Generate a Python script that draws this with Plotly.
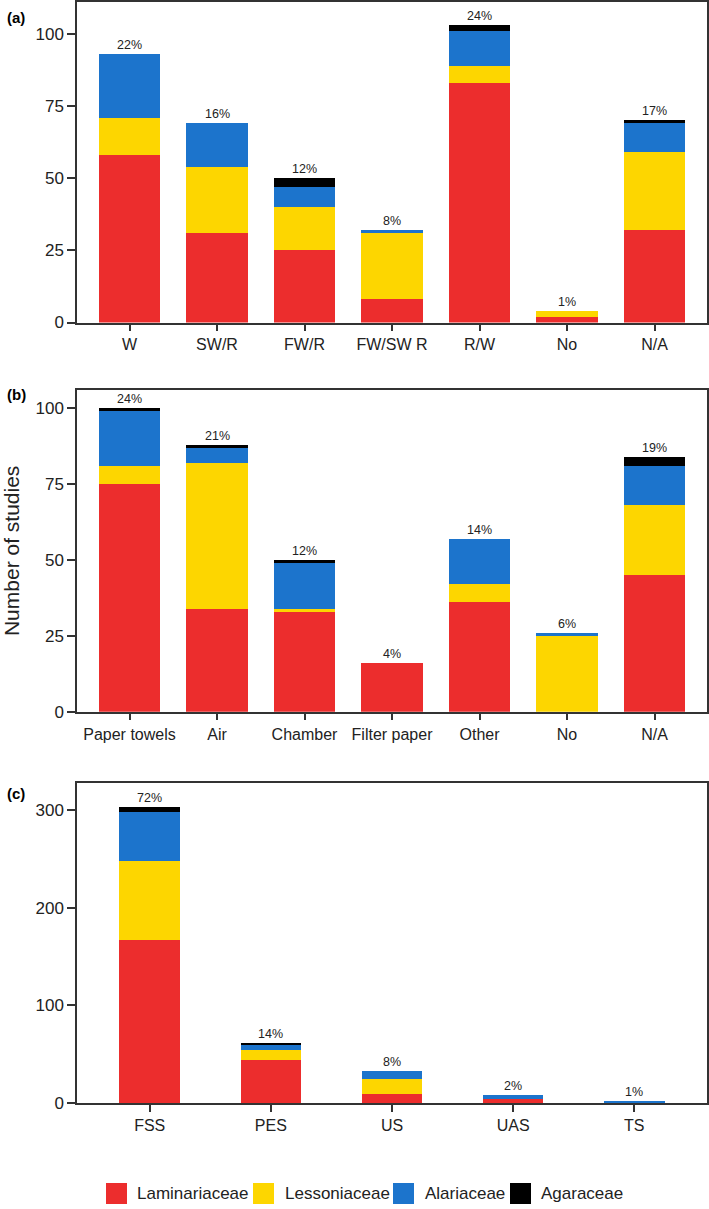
import plotly.graph_objects as go

# ---------------- data ----------------
families = ["Laminariaceae", "Lessoniaceae", "Alariaceae", "Agaraceae"]
colors = ["#EC2D2D", "#FDD600", "#1C74CC", "#000000"]

a_cats = ["W", "SW/R", "FW/R", "FW/SW R", "R/W", "No", "N/A"]
a_lam = [58, 31, 25, 8, 83, 2, 32]
a_les = [13, 23, 15, 23, 6, 2, 27]
a_ala = [22, 15, 7, 1, 12, 0, 10]
a_aga = [0, 0, 3, 0, 2, 0, 1]
a_pct = ["22%", "16%", "12%", "8%", "24%", "1%", "17%"]

b_cats = ["Paper towels", "Air", "Chamber", "Filter paper", "Other", "No", "N/A"]
b_lam = [75, 34, 33, 16, 36, 0, 45]
b_les = [6, 48, 1, 0, 6, 25, 23]
b_ala = [18, 5, 15, 0, 15, 1, 13]
b_aga = [1, 1, 1, 0, 0, 0, 3]
b_pct = ["24%", "21%", "12%", "4%", "14%", "6%", "19%"]

c_cats = ["FSS", "PES", "US", "UAS", "TS"]
c_lam = [167, 44, 9, 4, 0]
c_les = [81, 10, 16, 0, 0]
c_ala = [50, 6, 8, 4, 2]
c_aga = [5, 1, 0, 0, 0]
c_pct = ["72%", "14%", "8%", "2%", "1%"]

a_ticks = [0, 25, 50, 75, 100]
b_ticks = [0, 25, 50, 75, 100]
c_ticks = [0, 100, 200, 300]

# ---------------- figure ----------------
W, H = 709, 1209
FONT = "Liberation Sans, Arial, sans-serif"
TXT = "#222222"
LINE = "#333333"

fig = go.Figure()

panels = [
    ("x", "y", a_cats, [a_lam, a_les, a_ala, a_aga], a_pct, 0.7),
    ("x2", "y2", b_cats, [b_lam, b_les, b_ala, b_aga], b_pct, 0.7),
    ("x3", "y3", c_cats, [c_lam, c_les, c_ala, c_aga], c_pct, 0.5),
]

for xa, ya, cats, series, pcts, bw in panels:
    for name, col, vals in zip(families, colors, series):
        fig.add_trace(go.Bar(
            x=cats, y=vals, name=name, xaxis=xa, yaxis=ya,
            marker=dict(color=col, line=dict(width=0)),
            width=bw, showlegend=False, hoverinfo="x+y+name",
        ))
    totals = [sum(v) for v in zip(*series)]
    for c, t, p in zip(cats, totals, pcts):
        fig.add_annotation(
            x=c, y=t, xref=xa, yref=ya, text=p, showarrow=False,
            yanchor="bottom", yshift=0,
            font=dict(family=FONT, size=12.5, color=TXT),
        )

def py(px):
    return 1 - px / H

def pxx(px):
    return px / W

xdom = [pxx(77), pxx(707)]

axis_common = dict(
    showline=True, mirror=True, linecolor=LINE, linewidth=1.5,
    showgrid=False, zeroline=False, ticks="outside", tickcolor=LINE,
    tickwidth=2, automargin=False,
)

def xaxis(cats, anchor):
    return dict(
        axis_common, type="category", domain=xdom, anchor=anchor,
        range=[-0.6, len(cats) - 0.4], ticklen=7,
        tickfont=dict(family=FONT, size=16, color=TXT),
    )

def yaxis(dom, rng, ticks, anchor, title=None):
    d = dict(
        axis_common, domain=dom, anchor=anchor, range=rng,
        tickvals=ticks, ticklen=8,
        tickfont=dict(family=FONT, size=17, color=TXT),
    )
    if title:
        d["title"] = dict(text=title, standoff=11,
                          font=dict(family=FONT, size=21, color=TXT))
    return d

fig.update_layout(
    width=W, height=H, autosize=False,
    margin=dict(l=0, r=0, t=0, b=0),
    paper_bgcolor="white", plot_bgcolor="white",
    barmode="stack", showlegend=False,
    font=dict(family=FONT, color=TXT),
    xaxis=xaxis(a_cats, "y"),
    xaxis2=xaxis(b_cats, "y2"),
    xaxis3=xaxis(c_cats, "y3"),
    yaxis=yaxis([py(322.5), py(2)], [0, 111], a_ticks, "x"),
    yaxis2=yaxis([py(711.7), py(390)], [0, 106], b_ticks, "x2",
                 title="Number of studies"),
    yaxis3=yaxis([py(1103), py(782.7)], [0, 328], c_ticks, "x3"),
)

# panel labels
for lab, ycen in [("(a)", 17), ("(b)", 395), ("(c)", 793)]:
    fig.add_annotation(
        x=pxx(5), y=py(ycen), xref="paper", yref="paper", text=f"<b>{lab}</b>",
        showarrow=False, xanchor="left", yanchor="middle",
        font=dict(family=FONT, size=15, color="#000"),
    )

# legend (drawn manually to match the square swatches)
leg_sw_x = [106, 253, 393, 510]
leg_txt_x = [135, 283, 423, 539]
for name, col, sx, tx in zip(families, colors, leg_sw_x, leg_txt_x):
    fig.add_shape(
        type="rect", xref="paper", yref="paper",
        x0=pxx(sx), x1=pxx(sx + 21), y0=py(1204), y1=py(1183),
        fillcolor=col, line=dict(width=0),
    )
    fig.add_annotation(
        x=pxx(tx), y=py(1193.5), xref="paper", yref="paper", text=name,
        showarrow=False, xanchor="left", yanchor="middle",
        font=dict(family=FONT, size=17, color=TXT),
    )

fig.write_html(
    "out.html",
    config={"displayModeBar": False},
    post_script="document.body.style.margin='0px';document.body.style.overflow='hidden';",
)
